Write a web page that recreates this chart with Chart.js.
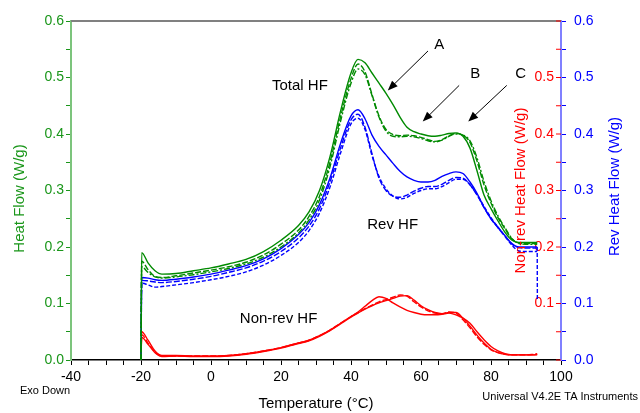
<!DOCTYPE html>
<html>
<head>
<meta charset="utf-8">
<script src="https://cdn.jsdelivr.net/npm/chart.js@4.4.1/dist/chart.umd.min.js"></script>
<style>
  html, body { margin: 0; padding: 0; background: #fff; }
  #wrap { width: 640px; height: 413px; }
</style>
</head>
<body>
<div id="wrap"><canvas id="dsc" width="640" height="413"></canvas></div>
<script>
// Temperature grid (°C) shared by all curves
const temps = [-20, -19.8, -18, -16, -14, -10, -5, 0, 5, 10, 15, 20, 25, 28, 31, 34, 37, 40, 42, 44,
  46, 48, 50, 52, 54, 56, 58, 60, 62, 64, 66, 68, 70, 72, 74, 76, 78, 80, 82, 84, 86, 88, 90, 92, 93.2];

// Total heat flow (W/g) - samples A, B, C
const totalA = [0, 0.19, 0.172, 0.158, 0.152, 0.153, 0.158, 0.163, 0.17, 0.178, 0.192, 0.212, 0.238, 0.262, 0.3,
  0.36, 0.44, 0.508, 0.532, 0.526, 0.508, 0.49, 0.472, 0.452, 0.43, 0.412, 0.404, 0.4, 0.397, 0.396,
  0.398, 0.401, 0.402, 0.396, 0.375, 0.335, 0.292, 0.268, 0.246, 0.226, 0.212, 0.208, 0.208, 0.208, 0.208];
const totalB = [0, 0.175, 0.16, 0.148, 0.146, 0.149, 0.154, 0.159, 0.165, 0.173, 0.186, 0.205, 0.23, 0.254, 0.29,
  0.35, 0.43, 0.498, 0.524, 0.51, 0.47, 0.432, 0.408, 0.399, 0.397, 0.398, 0.397, 0.394, 0.39, 0.387,
  0.39, 0.397, 0.401, 0.398, 0.385, 0.352, 0.31, 0.278, 0.252, 0.232, 0.214, 0.207, 0.206, 0.206, 0.206];
const totalC = [0, 0.165, 0.155, 0.147, 0.145, 0.147, 0.151, 0.156, 0.162, 0.17, 0.182, 0.2, 0.225, 0.248, 0.283,
  0.342, 0.422, 0.49, 0.515, 0.505, 0.468, 0.43, 0.405, 0.396, 0.395, 0.396, 0.395, 0.392, 0.388, 0.386,
  0.389, 0.396, 0.4, 0.398, 0.388, 0.358, 0.316, 0.282, 0.255, 0.234, 0.215, 0.206, 0.205, 0.205, 0.205];

// Reversing heat flow (W/g)
const revA = [0, 0.146, 0.145, 0.142, 0.141, 0.143, 0.147, 0.152, 0.159, 0.167, 0.179, 0.197, 0.222, 0.243, 0.275,
  0.322, 0.383, 0.432, 0.443, 0.427, 0.398, 0.378, 0.363, 0.348, 0.334, 0.324, 0.318, 0.315, 0.315, 0.318,
  0.325, 0.33, 0.333, 0.33, 0.315, 0.295, 0.27, 0.25, 0.235, 0.22, 0.206, 0.2, 0.2, 0.2, 0.2];
const revB = [0, 0.141, 0.14, 0.138, 0.137, 0.139, 0.143, 0.148, 0.155, 0.163, 0.175, 0.192, 0.216, 0.237, 0.268,
  0.315, 0.375, 0.425, 0.435, 0.412, 0.365, 0.322, 0.3, 0.29, 0.288, 0.292, 0.299, 0.304, 0.307, 0.307,
  0.311, 0.318, 0.323, 0.322, 0.31, 0.292, 0.27, 0.25, 0.234, 0.219, 0.205, 0.199, 0.198, 0.198, 0.198];
const revC = [0, 0.136, 0.133, 0.129, 0.13, 0.133, 0.137, 0.142, 0.148, 0.156, 0.168, 0.185, 0.208, 0.229, 0.26,
  0.306, 0.366, 0.418, 0.428, 0.408, 0.362, 0.325, 0.303, 0.29, 0.285, 0.288, 0.295, 0.3, 0.303, 0.303,
  0.307, 0.314, 0.32, 0.32, 0.31, 0.293, 0.272, 0.252, 0.235, 0.219, 0.203, 0.193, 0.192, 0.192, 0.192];
// end of the C reversing trace (drops at the end of the run)
const revCEndT = [93.2, 93.25];
const revCEnd = [0.2, 0.105];

// Non-reversing heat flow (W/g)
const nonrevA = [0, 0.05, 0.035, 0.016, 0.008, 0.008, 0.007, 0.007, 0.008, 0.011, 0.016, 0.022, 0.03, 0.035, 0.043,
  0.053, 0.065, 0.077, 0.085, 0.095, 0.105, 0.112, 0.109, 0.101, 0.094, 0.088, 0.084, 0.081, 0.08, 0.08,
  0.081, 0.083, 0.08, 0.074, 0.065, 0.05, 0.036, 0.024, 0.016, 0.011, 0.009, 0.009, 0.009, 0.009, 0.009];
const nonrevB = [0, 0.045, 0.03, 0.014, 0.007, 0.007, 0.007, 0.007, 0.008, 0.011, 0.016, 0.022, 0.03, 0.035, 0.043,
  0.053, 0.065, 0.077, 0.084, 0.091, 0.097, 0.103, 0.107, 0.111, 0.115, 0.113, 0.103, 0.094, 0.087, 0.083,
  0.082, 0.085, 0.083, 0.071, 0.057, 0.041, 0.028, 0.018, 0.013, 0.01, 0.009, 0.009, 0.009, 0.01, 0.011];
const nonrevC = [0, 0.04, 0.028, 0.013, 0.006, 0.007, 0.006, 0.006, 0.007, 0.01, 0.015, 0.021, 0.029, 0.034, 0.042,
  0.052, 0.064, 0.076, 0.083, 0.09, 0.096, 0.101, 0.105, 0.109, 0.113, 0.114, 0.106, 0.096, 0.089, 0.084,
  0.082, 0.084, 0.084, 0.074, 0.06, 0.044, 0.03, 0.019, 0.013, 0.01, 0.009, 0.009, 0.009, 0.009, 0.01];

// Labels drawn on the plot (data coordinates)
const notes = [
  { text: 'Total HF', x: 25.4, y: 0.486 },
  { text: 'Rev HF', x: 51.9, y: 0.239 },
  { text: 'Non-rev HF', x: 19.3, y: 0.073 },
  { text: 'A', x: 65.2, y: 0.557 },
  { text: 'B', x: 75.5, y: 0.506 },
  { text: 'C', x: 88.5, y: 0.506 }
];
const arrows = [
  { x1: 62.0, y1: 0.547, x2: 50.5, y2: 0.477 },
  { x1: 70.9, y1: 0.486, x2: 60.5, y2: 0.422 },
  { x1: 84.5, y1: 0.486, x2: 73.5, y2: 0.422 }
];

const GREEN = '#008a00';
const BLUE = '#0000ff';
const RED = '#ff0000';
const FONT = '"Liberation Sans", Arial, sans-serif';

function pts(xs, ys) {
  return xs.map((t, i) => ({ x: t, y: ys[i] }));
}

function trace(vals, color, dash, axis) {
  return {
    data: pts(temps, vals),
    borderColor: color,
    borderWidth: 1.4,
    borderDash: dash,
    pointRadius: 0,
    showLine: true,
    fill: false,
    cubicInterpolationMode: 'monotone',
    yAxisID: axis
  };
}

const tenths = v => {
  const k = Math.round(v * 100);
  return k % 10 === 0 ? (v).toFixed(1) : '';
};

const decor = {
  id: 'decor',
  afterDatasetsDraw(chart) {
    const { ctx, chartArea: a, scales } = chart;
    const sx = scales.x, sy = scales.y;
    ctx.save();
    // top frame line
    ctx.strokeStyle = '#808080';
    ctx.lineWidth = 2;
    ctx.beginPath();
    ctx.moveTo(a.left, a.top);
    ctx.lineTo(a.right, a.top);
    ctx.stroke();

    // red inner ticks of the non-reversing axis
    ctx.strokeStyle = RED;
    ctx.lineWidth = 1;
    scales.yNon.ticks.forEach(t => {
      const y = scales.yNon.getPixelForValue(t.value);
      ctx.beginPath();
      ctx.moveTo(a.right - 5, y);
      ctx.lineTo(a.right, y);
      ctx.stroke();
    });

    // annotations
    ctx.fillStyle = '#000';
    ctx.font = '15px ' + FONT;
    ctx.textAlign = 'center';
    ctx.textBaseline = 'middle';
    notes.forEach(n => ctx.fillText(n.text, sx.getPixelForValue(n.x), sy.getPixelForValue(n.y)));

    ctx.strokeStyle = '#000';
    ctx.lineWidth = 1;
    arrows.forEach(r => {
      const x1 = sx.getPixelForValue(r.x1), y1 = sy.getPixelForValue(r.y1);
      const x2 = sx.getPixelForValue(r.x2), y2 = sy.getPixelForValue(r.y2);
      const ang = Math.atan2(y2 - y1, x2 - x1);
      ctx.beginPath();
      ctx.moveTo(x1, y1);
      ctx.lineTo(x2 - 6 * Math.cos(ang), y2 - 6 * Math.sin(ang));
      ctx.stroke();
      ctx.beginPath();
      ctx.moveTo(x2, y2);
      ctx.lineTo(x2 - 10 * Math.cos(ang) + 4 * Math.sin(ang), y2 - 10 * Math.sin(ang) - 4 * Math.cos(ang));
      ctx.lineTo(x2 - 10 * Math.cos(ang) - 4 * Math.sin(ang), y2 - 10 * Math.sin(ang) + 4 * Math.cos(ang));
      ctx.closePath();
      ctx.fillStyle = '#000';
      ctx.fill();
    });

    // axis titles
    const midY = (a.top + a.bottom) / 2;
    const vtext = (txt, x, y, color) => {
      ctx.save();
      ctx.translate(x, y);
      ctx.rotate(-Math.PI / 2);
      ctx.fillStyle = color;
      ctx.font = '15px ' + FONT;
      ctx.textAlign = 'center';
      ctx.textBaseline = 'middle';
      ctx.fillText(txt, 0, 0);
      ctx.restore();
    };
    vtext('Heat Flow (W/g)', 20, midY + 8, '#1a961a');
    vtext('Non-rev Heat Flow (W/g)', 521, midY, RED);
    vtext('Rev Heat Flow (W/g)', 615, midY - 4, BLUE);

    ctx.fillStyle = '#000';
    ctx.font = '15px ' + FONT;
    ctx.textAlign = 'center';
    ctx.fillText('Temperature (°C)', (a.left + a.right) / 2, 404);
    ctx.font = '11px ' + FONT;
    ctx.textAlign = 'left';
    ctx.fillText('Exo Down', 20, 391);
    ctx.textAlign = 'right';
    ctx.fillText('Universal V4.2E TA Instruments', 638, 397);
    ctx.restore();
  }
};

const datasets = [
  trace(totalA, GREEN, [], 'y'),
  trace(totalB, GREEN, [6, 2], 'y'),
  trace(totalC, GREEN, [6, 2, 2, 2], 'y'),
  trace(revA, BLUE, [], 'yRev'),
  trace(revB, BLUE, [6, 2], 'yRev'),
  trace(revC, BLUE, [4, 2], 'yRev'),
  {
    data: pts(revCEndT, revCEnd), borderColor: BLUE, borderWidth: 1.4, borderDash: [4, 2],
    pointRadius: 0, showLine: true, tension: 0, yAxisID: 'yRev'
  },
  trace(nonrevA, RED, [], 'yNon'),
  trace(nonrevB, RED, [6, 2], 'yNon'),
  trace(nonrevC, RED, [], 'yNon')
];

new Chart(document.getElementById('dsc'), {
  type: 'scatter',
  data: { datasets },
  options: {
    responsive: false,
    animation: false,
    devicePixelRatio: 1,
    layout: { padding: { top: 21, left: 0, right: 0, bottom: 0 } },
    plugins: { legend: { display: false }, tooltip: { enabled: false } },
    scales: {
      x: {
        type: 'linear', min: -40, max: 100,
        ticks: {
          stepSize: 5, autoSkip: false, maxRotation: 0, padding: 4,
          color: '#000', font: { family: FONT, size: 14 },
          callback: v => (v % 20 === 0 ? v : '')
        },
        grid: { drawOnChartArea: false, color: '#000', tickLength: 5 },
        border: { color: '#000', width: 1.5 },
        afterFit: s => { s.height = 53; }
      },
      y: {
        position: 'left', min: 0, max: 0.6,
        ticks: {
          stepSize: 0.05, autoSkip: false, padding: 2,
          color: '#1a961a', font: { family: FONT, size: 14 },
          callback: tenths
        },
        grid: { drawOnChartArea: false, color: '#1a961a', tickLength: 5 },
        border: { color: '#7cc47c', width: 2 },
        afterFit: s => { s.width = 71; }
      },
      yNon: {
        position: 'right', weight: 0, min: 0, max: 0.6,
        ticks: {
          stepSize: 0.05, autoSkip: false, mirror: true, padding: -7,
          color: RED, font: { family: FONT, size: 14 },
          callback: v => {
            const s = tenths(v);
            return (s === '0.0' || s === '0.6') ? '' : s;
          }
        },
        grid: { display: false },
        border: { display: false },
        afterFit: s => { s.width = 0; }
      },
      yRev: {
        position: 'right', weight: 1, min: 0, max: 0.6,
        ticks: {
          stepSize: 0.05, autoSkip: false, padding: 8,
          color: BLUE, font: { family: FONT, size: 14 },
          callback: tenths
        },
        grid: { drawOnChartArea: false, color: BLUE, tickLength: 5 },
        border: { color: '#8080ff', width: 2 },
        afterFit: s => { s.width = 79; }
      }
    }
  },
  plugins: [decor]
});
</script>
</body>
</html>
